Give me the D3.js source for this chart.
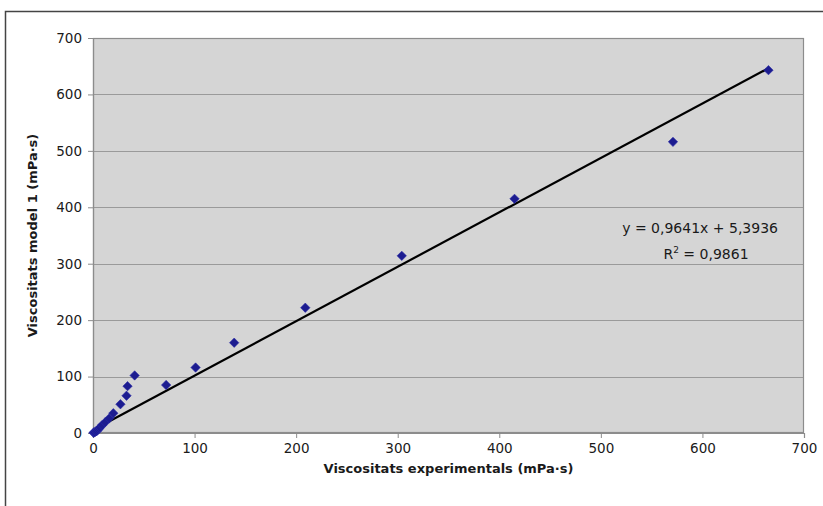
<!DOCTYPE html>
<html>
<head>
<meta charset="utf-8">
<script src="https://cdn.jsdelivr.net/npm/d3@7"></script>
<style>
  html, body { margin: 0; padding: 0; background: #fff; }
  svg { display: block; }
  text { font-family: "DejaVu Sans", Verdana, sans-serif; }
</style>
</head>
<body>
<svg id="chart" width="823" height="506"></svg>
<script>
// Experimental viscosities (x) vs. model 1 viscosities (y), mPa·s
const experimental = [0.5, 1, 2, 3, 4, 5, 6, 7, 9, 12, 16, 20, 27, 33, 34, 41, 72, 101, 139, 209, 304, 415, 571, 665];
const model1       = [0.5, 1, 1.5, 3, 4, 6, 8, 10, 14, 19, 26, 35, 51, 66, 83, 102, 85, 116, 160, 222, 314, 415, 516, 643];

// Linear trend line fitted to the series
const slope = 0.9641;
const intercept = 5.3936;
const rSquared = 0.9861;

const xTicks = [0, 100, 200, 300, 400, 500, 600, 700];
const yTicks = [0, 100, 200, 300, 400, 500, 600, 700];

const xTitle = "Viscositats experimentals (mPa·s)";
const yTitle = "Viscositats model 1 (mPa·s)";

const svg = d3.select("#chart");
const plot = { left: 93, right: 804, top: 38, bottom: 433 };

const x = d3.scaleLinear().domain([0, 700]).range([plot.left, plot.right]);
const y = d3.scaleLinear().domain([0, 700]).range([plot.bottom, plot.top]);

// outer chart frame (top and left edges visible)
svg.append("path")
  .attr("d", "M5.5,506 L5.5,11.5 L823,11.5")
  .attr("fill", "none")
  .attr("stroke", "#444")
  .attr("stroke-width", 1.5);

// plot area background
svg.append("rect")
  .attr("x", plot.left).attr("y", plot.top)
  .attr("width", plot.right - plot.left).attr("height", plot.bottom - plot.top)
  .attr("fill", "#d5d5d5");

// horizontal gridlines
svg.append("g")
  .selectAll("line")
  .data(yTicks.filter(d => d > 0 && d < 700))
  .join("line")
  .attr("x1", plot.left).attr("x2", plot.right)
  .attr("y1", d => Math.round(y(d)) + 0.5).attr("y2", d => Math.round(y(d)) + 0.5)
  .attr("stroke", "#9a9a9a").attr("stroke-width", 1.2);

// plot area border
svg.append("rect")
  .attr("x", plot.left + 0.5).attr("y", plot.top + 0.5)
  .attr("width", plot.right - plot.left - 1).attr("height", plot.bottom - plot.top - 1)
  .attr("fill", "none")
  .attr("stroke", "#8c8c8c").attr("stroke-width", 1.2);

// axes
const xAxis = svg.append("g")
  .attr("transform", `translate(0,${plot.bottom})`)
  .call(d3.axisBottom(x).tickValues(xTicks).tickSize(5).tickPadding(5).tickFormat(d3.format("d")));
const yAxis = svg.append("g")
  .attr("transform", `translate(${plot.left},0)`)
  .call(d3.axisLeft(y).tickValues(yTicks).tickSize(5).tickPadding(6).tickFormat(d3.format("d")));

[xAxis, yAxis].forEach(g => {
  g.select(".domain").attr("stroke", "#8c8c8c").attr("stroke-width", 1.2);
  g.selectAll(".tick line").attr("stroke", "#8c8c8c");
  g.selectAll(".tick text")
    .attr("fill", "#1a1a1a")
    .style("font-size", "13.5px")
    .style("font-family", "'DejaVu Sans', Verdana, sans-serif");
});

// trend line over the data range
const xMin = d3.min(experimental), xMax = d3.max(experimental);
svg.append("line")
  .attr("x1", x(xMin)).attr("y1", y(slope * xMin + intercept))
  .attr("x2", x(xMax)).attr("y2", y(slope * xMax + intercept))
  .attr("stroke", "#000").attr("stroke-width", 2.2);

// data markers (diamonds)
const pts = experimental.map((v, i) => ({ x: v, y: model1[i] }));
const diamond = d3.symbol().type(d3.symbolDiamond2).size(56);
svg.append("g")
  .selectAll("path")
  .data(pts)
  .join("path")
  .attr("d", diamond)
  .attr("transform", d => `translate(${x(d.x)},${y(d.y)})`)
  .attr("fill", "#1c1c90")
  .attr("stroke", "#2a2aa8")
  .attr("stroke-width", 0.6);

// equation and R² annotation
const fmt4 = v => v.toFixed(4).replace(".", ",");
svg.append("text")
  .attr("x", 778).attr("y", 233)
  .attr("text-anchor", "end")
  .style("font-size", "14px")
  .attr("fill", "#1a1a1a")
  .text(`y = ${fmt4(slope)}x + ${fmt4(intercept)}`);
const r2 = svg.append("text")
  .attr("x", 706).attr("y", 259)
  .attr("text-anchor", "middle")
  .style("font-size", "14px")
  .attr("fill", "#1a1a1a");
r2.append("tspan").text("R");
r2.append("tspan").attr("dy", -6).style("font-size", "9px").text("2");
r2.append("tspan").attr("dy", 6).text(` = ${fmt4(rSquared)}`);

// axis titles
svg.append("text")
  .attr("x", (plot.left + plot.right) / 2).attr("y", 473)
  .attr("text-anchor", "middle")
  .style("font-size", "13px").style("font-weight", "bold")
  .attr("fill", "#1a1a1a")
  .text(xTitle);
svg.append("text")
  .attr("transform", `translate(37,${(plot.top + plot.bottom) / 2}) rotate(-90)`)
  .attr("text-anchor", "middle")
  .style("font-size", "13px").style("font-weight", "bold")
  .attr("fill", "#1a1a1a")
  .text(yTitle);
</script>
</body>
</html>
